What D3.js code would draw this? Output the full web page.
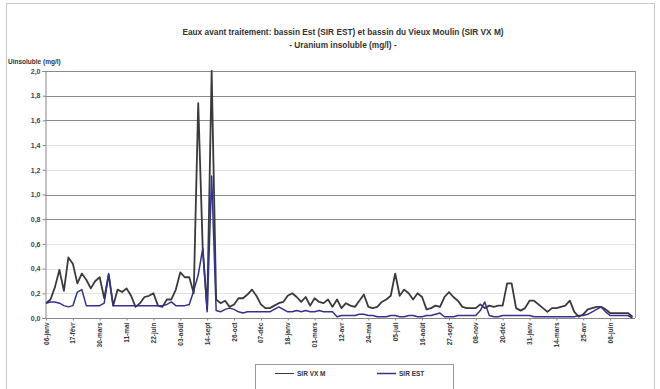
<!DOCTYPE html>
<html><head><meta charset="utf-8">
<script src="https://cdn.jsdelivr.net/npm/d3@7"></script>
<style>
html,body{margin:0;padding:0;background:#fff;}
svg{display:block;font-family:"Liberation Sans",Arial,sans-serif;}
</style></head>
<body>
<svg id="c" width="660" height="389"></svg>
<script>
const titleLines = ["Eaux avant traitement: bassin Est (SIR EST) et bassin du Vieux Moulin (SIR VX M)", "- Uranium insoluble (mg/l) -"];
const yLabel = "Uinsoluble (mg/l)";
const seriesNames = ["SIR VX M", "SIR EST"];
const yTicks = [0,0.2,0.4,0.6,0.8,1.0,1.2,1.4,1.6,1.8,2.0];
const tickLabels = ["06-janv","17-févr","30-mars","11-mai","22-juin","03-août","14-sept","26-oct","07-déc","18-janv","01-mars","12-avr","24-mai","05-juil","16-août","27-sept","08-nov","20-déc","31-janv","14-mars","25-avr","06-juin"];
const sirVxM = [0.12,0.15,0.25,0.39,0.22,0.49,0.44,0.28,0.36,0.31,
 0.24,0.30,0.33,0.16,0.35,0.10,0.23,0.21,0.24,0.18,
 0.09,0.12,0.17,0.18,0.20,0.10,0.09,0.15,0.15,0.23,
 0.37,0.33,0.33,0.20,1.74,0.57,0.07,2.00,0.15,0.12,
 0.14,0.09,0.11,0.16,0.16,0.19,0.23,0.18,0.11,0.08,
 0.08,0.10,0.12,0.13,0.18,0.20,0.17,0.13,0.17,0.10,
 0.16,0.13,0.12,0.15,0.09,0.15,0.08,0.12,0.10,0.09,
 0.14,0.19,0.09,0.08,0.09,0.13,0.15,0.18,0.36,0.18,
 0.23,0.20,0.15,0.20,0.17,0.07,0.08,0.10,0.09,0.17,
 0.21,0.17,0.14,0.09,0.08,0.08,0.08,0.11,0.08,0.10,
 0.09,0.10,0.10,0.28,0.28,0.08,0.06,0.08,0.14,0.14,
 0.11,0.08,0.05,0.08,0.08,0.09,0.10,0.14,0.05,0.01,
 0.03,0.07,0.08,0.09,0.09,0.07,0.04,0.04,0.04,0.04,
 0.04,0.01];
const sirEst = [0.12,0.13,0.13,0.12,0.10,0.09,0.10,0.21,0.23,0.10,
 0.10,0.10,0.10,0.12,0.36,0.10,0.10,0.10,0.10,0.10,
 0.10,0.10,0.10,0.10,0.10,0.10,0.10,0.11,0.13,0.10,
 0.10,0.10,0.11,0.22,0.35,0.56,0.05,1.15,0.06,0.05,
 0.07,0.08,0.07,0.05,0.04,0.05,0.05,0.05,0.05,0.05,
 0.05,0.07,0.09,0.07,0.05,0.05,0.06,0.05,0.06,0.05,
 0.05,0.06,0.05,0.05,0.05,0.01,0.02,0.02,0.02,0.02,
 0.03,0.03,0.02,0.02,0.01,0.01,0.01,0.02,0.02,0.01,
 0.01,0.02,0.02,0.01,0.01,0.02,0.02,0.03,0.04,0.01,
 0.01,0.01,0.02,0.02,0.02,0.02,0.02,0.06,0.13,0.02,
 0.01,0.01,0.02,0.02,0.02,0.02,0.02,0.02,0.02,0.01,
 0.01,0.01,0.01,0.01,0.01,0.01,0.01,0.01,0.01,0.02,
 0.02,0.03,0.05,0.07,0.09,0.05,0.02,0.02,0.02,0.02,
 0.02,0.00];
const labelEvery = 6;

const svg = d3.select("#c");
const plot = {left:45, right:635, top:71, bottom:318};

// outer frame
svg.append("rect").attr("x",6.5).attr("y",3.5).attr("width",648).attr("height",400)
  .attr("fill","none").attr("stroke","#c8c8c8");

const x = d3.scaleLinear().domain([0, sirVxM.length-1]).range([46, 632.5]);
const y = d3.scaleLinear().domain([0, 2]).range([plot.bottom, plot.top]);

// gridlines
const strong = new Set([2.0,1.8,1.6,1.0,0.8]);
svg.append("g").selectAll("line").data(yTicks.filter(d=>d>0)).join("line")
  .attr("x1",plot.left).attr("x2",plot.right)
  .attr("y1",d=>Math.round(y(d))+0.5).attr("y2",d=>Math.round(y(d))+0.5)
  .attr("stroke",d=>strong.has(+d.toFixed(1))?"#8a8a8a":"#e2e2e2").attr("stroke-width",1);

// plot right border
svg.append("line").attr("x1",plot.right+0.5).attr("x2",plot.right+0.5)
  .attr("y1",plot.top).attr("y2",plot.bottom).attr("stroke","#9a9a9a");

// y axis
const yAxis = d3.axisLeft(y).tickValues(yTicks).tickSize(3)
  .tickFormat(d=>d3.format(".1f")(d).replace(".",","));
const gy = svg.append("g").attr("transform",`translate(${plot.left+0.5},0)`).call(yAxis);
gy.select(".domain").attr("stroke","#888");
gy.selectAll(".tick line").attr("stroke","#888");
gy.selectAll(".tick text").attr("font-size","7px").attr("font-weight","bold").attr("fill","#444").attr("x",-5);

// x axis
const tickIdx = tickLabels.map((_,i)=>i*labelEvery);
const xAxis = d3.axisBottom(x).tickValues(tickIdx).tickSize(2)
  .tickFormat((d,i)=>tickLabels[i]);
const gx = svg.append("g").attr("transform",`translate(0,${plot.bottom+0.5})`).call(xAxis);
gx.select(".domain").attr("stroke","#888").attr("d",`M${plot.left},0H${plot.right}`);
gx.selectAll(".tick line").attr("stroke","#888");
gx.selectAll(".tick text").attr("font-size","6.5px").attr("font-weight","bold").attr("fill","#333")
  .attr("transform","rotate(-90)").attr("text-anchor","end").attr("x",-4).attr("y",0).attr("dy","0.32em");

// lines
const line = d3.line().x((d,i)=>x(i)).y(d=>y(d));
svg.append("path").datum(sirVxM).attr("d",line).attr("fill","none")
  .attr("stroke","#3a3a3a").attr("stroke-width",1.8).attr("stroke-linejoin","round");
svg.append("path").datum(sirEst).attr("d",line).attr("fill","none")
  .attr("stroke","#33338f").attr("stroke-width",1.5).attr("stroke-linejoin","round");

// title
svg.append("text").attr("x",343).attr("y",35).attr("text-anchor","middle")
  .attr("font-size","8.3px").attr("font-weight","bold").attr("fill","#333").text(titleLines[0]);
svg.append("text").attr("x",343).attr("y",48).attr("text-anchor","middle")
  .attr("font-size","8.3px").attr("font-weight","bold").attr("fill","#333").text(titleLines[1]);
svg.append("text").attr("x",8).attr("y",64)
  .attr("font-size","6.5px").attr("font-weight","bold").attr("fill","#333").text(yLabel);

// legend
const lg = svg.append("g");
lg.append("rect").attr("x",255.5).attr("y",364.5).attr("width",198).attr("height",40)
  .attr("fill","none").attr("stroke","#999");
const cols = ["#3a3a3a","#33338f"];
const lx = [275, 377];
seriesNames.forEach((n,i)=>{
  lg.append("line").attr("x1",lx[i]).attr("x2",lx[i]+19).attr("y1",373.5).attr("y2",373.5)
    .attr("stroke",cols[i]).attr("stroke-width",i===0?1:1.5);
  lg.append("text").attr("x",lx[i]+22).attr("y",376).attr("font-size","6.5px").attr("font-weight","bold")
    .attr("fill","#333").text(n);
});
</script>
</body></html>
